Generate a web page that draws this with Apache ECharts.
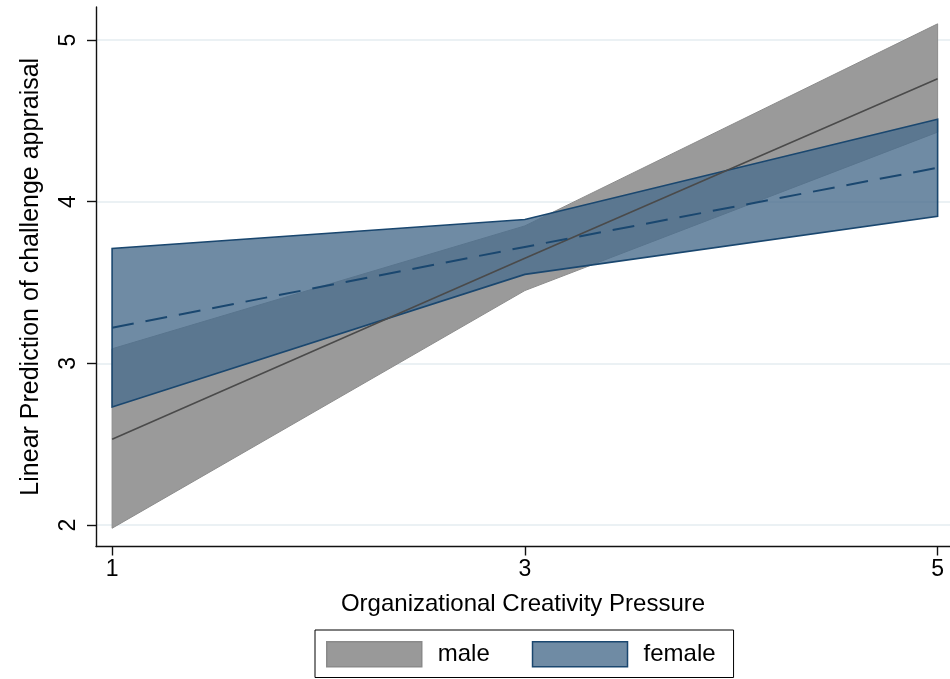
<!DOCTYPE html>
<html>
<head>
<meta charset="utf-8">
<script src="https://cdn.jsdelivr.net/npm/echarts@6/dist/echarts.min.js"></script>
<style>
  html, body { margin: 0; padding: 0; background: #fff; }
  #chart { width: 950px; height: 679px; }
</style>
</head>
<body>
<div id="chart"></div>
<script>
// Predicted challenge appraisal by organizational creativity pressure, with 95% CIs
const xVals = [1, 3, 5];
const maleLower = [1.98, 3.45, 4.43];
const maleMean = [2.53, 3.65, 4.76];
const maleUpper = [3.09, 3.85, 5.10];
const femaleLower = [2.73, 3.55, 3.91];
const femaleMean = [3.22, 3.72, 4.21];
const femaleUpper = [3.71, 3.89, 4.51];
const xTicks = [1, 3, 5];
const yTicks = [2, 3, 4, 5];

const FONT = '"Liberation Sans", Arial, Helvetica, sans-serif';

// confidence band: polygon along the lower bound, back along the upper bound
function bandRenderer(lower, upper, fill, stroke, strokeWidth) {
  return function (params, api) {
    if (params.dataIndex !== 0) return null;
    const pts = [];
    for (let i = 0; i < xVals.length; i++) pts.push(api.coord([xVals[i], lower[i]]));
    for (let i = xVals.length - 1; i >= 0; i--) pts.push(api.coord([xVals[i], upper[i]]));
    return {
      type: 'polygon',
      shape: { points: pts },
      style: { fill: fill, stroke: stroke, lineWidth: strokeWidth, lineJoin: 'miter' }
    };
  };
}

const chart = echarts.init(document.getElementById('chart'), null, { renderer: 'canvas' });

chart.setOption({
  animation: false,
  backgroundColor: '#fff',
  grid: { left: 96, right: 0, top: 7, bottom: 132.5, containLabel: false },
  xAxis: {
    type: 'value',
    min: 0.922,
    max: 5.06,
    name: 'Organizational Creativity Pressure',
    nameLocation: 'middle',
    nameGap: 46,
    nameTextStyle: { fontFamily: FONT, fontSize: 24, color: '#000' },
    axisLine: { show: true, onZero: false, lineStyle: { color: '#111', width: 1.4 } },
    axisTick: { show: true, customValues: xTicks, length: 9, lineStyle: { color: '#111', width: 1.4 } },
    axisLabel: { customValues: xTicks, fontFamily: FONT, fontSize: 23, color: '#000', margin: 12 },
    splitLine: { show: false }
  },
  yAxis: {
    type: 'value',
    min: 1.867,
    max: 5.204,
    name: 'Linear Prediction of challenge appraisal',
    nameLocation: 'middle',
    nameRotate: 90,
    nameGap: 52,
    nameTextStyle: { fontFamily: FONT, fontSize: 25, color: '#000' },
    axisLine: { show: true, onZero: false, lineStyle: { color: '#111', width: 1.4 } },
    axisTick: { show: true, customValues: yTicks, length: 9, lineStyle: { color: '#111', width: 1.4 } },
    axisLabel: { customValues: yTicks, rotate: 90, fontFamily: FONT, fontSize: 23, color: '#000', margin: 16 },
    splitLine: { show: true, lineStyle: { color: '#e4edf1', width: 1.5 } }
  },
  legend: {
    left: 315,
    top: 630,
    orient: 'horizontal',
    padding: [11, 18, 10, 11],
    borderColor: '#000',
    borderWidth: 1,
    itemWidth: 95,
    itemHeight: 25,
    itemGap: 42,
    textStyle: { fontFamily: FONT, fontSize: 24, color: '#000', padding: [6, 0, 0, 11] },
    selectedMode: false,
    data: [
      { name: 'male', icon: 'rect', itemStyle: { color: '#999999', borderColor: '#8a8a8a', borderWidth: 1.5 } },
      { name: 'female', icon: 'rect', itemStyle: { color: '#6f8ba4', borderColor: '#1a476f', borderWidth: 1.5 } }
    ]
  },
  series: [
    {
      name: 'male',
      type: 'custom',
      z: 2,
      silent: true,
      clip: true,
      itemStyle: { color: '#999999' },
      encode: { x: 0, y: [1, 2] },
      data: xVals.map((x, i) => [x, maleLower[i], maleUpper[i]]),
      renderItem: bandRenderer(maleLower, maleUpper, '#9a9a9a', '#8c8c8c', 1)
    },
    {
      name: 'female',
      type: 'custom',
      z: 3,
      silent: true,
      clip: true,
      itemStyle: { color: '#6f8ba4' },
      encode: { x: 0, y: [1, 2] },
      data: xVals.map((x, i) => [x, femaleLower[i], femaleUpper[i]]),
      renderItem: bandRenderer(femaleLower, femaleUpper, 'rgba(75,110,141,0.8)', '#1a476f', 1.6)
    },
    {
      name: 'male prediction',
      type: 'line',
      z: 4,
      silent: true,
      showSymbol: false,
      lineStyle: { color: '#4a4a4a', width: 1.6 },
      data: xVals.map((x, i) => [x, maleMean[i]])
    },
    {
      name: 'female prediction',
      type: 'line',
      z: 4,
      silent: true,
      showSymbol: false,
      lineStyle: { color: '#1a476f', width: 2, type: [22, 12] },
      data: xVals.map((x, i) => [x, femaleMean[i]])
    }
  ]
});
</script>
</body>
</html>
